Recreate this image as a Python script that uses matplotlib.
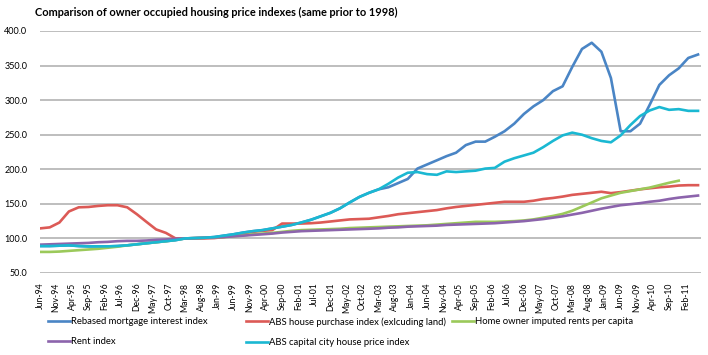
import matplotlib
matplotlib.use("Agg")
import matplotlib.pyplot as plt
import numpy as np
import pandas as pd

# quarterly observations, Jun-94 .. Jun-11
quarters = pd.date_range("1994-06-01", periods=69, freq="3MS")

mortgage = [89, 89, 89.5, 90, 89, 88.5, 88.5, 88.5, 89, 90,
            91.5, 93, 94.5, 96, 97.5, 100, 100.5, 101, 102, 104,
            106, 108.5, 110.5, 112, 114.5, 117, 119.5, 123, 127, 132,
            137, 143.5, 152, 160, 166, 171, 174, 180, 186, 201,
            207, 213, 219, 224, 235, 240, 240, 247, 255, 266,
            280, 291, 300, 313, 320, 348, 374, 383, 370, 332,
            255, 255, 266, 293, 322, 336, 346, 361, 366]

house_purchase = [114.5, 116, 123, 139, 145, 145.5, 147, 148, 148, 145,
                  135, 124, 113, 108, 100, 100, 100, 100, 100.5, 102,
                  104.5, 107, 109.5, 111, 112, 121.5, 121.5, 121.5, 122, 123,
                  124.5, 126, 127.5, 128, 128.5, 130.5, 132.5, 135, 136.5, 138,
                  139.5, 141, 143.5, 145.5, 147, 148.5, 150, 151.5, 153, 153,
                  153, 154.5, 157, 158.5, 160.5, 163, 164.5, 166, 167.5, 165.5,
                  167, 169, 171, 172.5, 174, 175, 176.5, 177, 177]

imputed_rents = [80.5, 80.5, 81, 82, 83, 84, 85, 86.5, 88, 90,
                 91.5, 93, 94.5, 96, 98, 100, 100.5, 101, 101.5, 102,
                 103, 104.5, 106, 107, 108, 109.5, 111, 112, 112.5, 113,
                 113.5, 114, 115, 115.5, 116, 116.5, 117, 117.5, 118, 118.5,
                 119, 120, 121, 122, 123, 124, 124, 124, 124.5, 125,
                 126, 127.5, 130, 132.5, 135.5, 140, 146, 152, 158, 162,
                 166, 168.5, 171, 173.5, 177, 180.5, 183.5, None, None]

rent = [91, 91.5, 92, 92.5, 93, 93.5, 94.5, 95, 96, 96.5,
        96.5, 97, 98, 98.5, 99.5, 100, 100.5, 101, 101.5, 102,
        103, 104, 105, 106, 107, 108.5, 109.5, 110.5, 111, 111.5,
        112, 112.5, 113, 113.5, 114, 114.5, 115.5, 116, 117, 117.5,
        118, 118.5, 119.5, 120, 120.5, 121, 121.5, 122, 123, 124,
        125, 126.5, 128, 130, 132, 134.5, 137, 140, 143, 145.5,
        148, 149.5, 151, 153, 154.5, 157, 159, 160.5, 162]

capital_city = [89, 89, 89.5, 90, 89, 88.5, 88.5, 88.5, 89, 90,
                91.5, 93, 94.5, 96, 97.5, 100, 100.5, 101, 102, 104,
                106, 108.5, 110.5, 112, 114.5, 117, 119.5, 123, 127, 132,
                137, 143.5, 152, 160, 166, 171, 179, 188, 195, 196,
                193, 192, 197, 196, 197, 198, 201, 202, 211, 216,
                220, 224, 232, 241, 249, 253, 250, 245, 241, 239,
                249, 264, 277, 285, 290, 286, 287, 284.5, 284.5]

tick_labels = ["Jun-94", "Nov-94", "Apr-95", "Sep-95", "Feb-96", "Jul-96", "Dec-96",
               "May-97", "Oct-97", "Mar-98", "Aug-98", "Jan-99", "Jun-99", "Nov-99",
               "Apr-00", "Sep-00", "Feb-01", "Jul-01", "Dec-01", "May-02", "Oct-02",
               "Mar-03", "Aug-03", "Jan-04", "Jun-04", "Nov-04", "Apr-05", "Sep-05",
               "Feb-06", "Jul-06", "Dec-06", "May-07", "Oct-07", "Mar-08", "Aug-08",
               "Jan-09", "Jun-09", "Nov-09", "Apr-10", "Sep-10", "Feb-11"]

names = ["Rebased mortgage interest index",
         "ABS house purchase index (exlcuding land)",
         "Home owner imputed rents per capita",
         "Rent index",
         "ABS capital city house price index"]
colors = ["#4a85c5", "#dc5a56", "#9bc95a", "#8c64ac", "#1ab8d2"]

plt.rcParams["font.family"] = ["Lato", "DejaVu Sans"]

fig = plt.figure(figsize=(7.08, 3.55), dpi=100)
ax = fig.add_axes([40 / 708, 1 - 273 / 355, 661 / 708, 242 / 355])

series = [mortgage, house_purchase, imputed_rents, rent, capital_city]
handles = []
for vals, name, col in zip(series, names, colors):
    y = np.array([np.nan if v is None else v for v in vals], dtype=float)
    h, = ax.plot(quarters, y, color=col, lw=1.9, label=name, solid_joinstyle="round")
    handles.append(h)

ax.set_ylim(50, 400)
ax.set_yticks(np.arange(50, 401, 50))
ax.yaxis.set_major_formatter(matplotlib.ticker.FormatStrFormatter("%.1f"))
ax.set_xlim(quarters[0], quarters[-1] + pd.Timedelta(days=28))

tick_dates = pd.date_range("1994-06-01", periods=len(tick_labels), freq="5MS")
ax.set_xticks(tick_dates)
ax.set_xticklabels(tick_labels, rotation=90)
ax.tick_params(axis="both", length=0)
ax.tick_params(axis="y", pad=9, labelsize=6.5)
ax.tick_params(axis="x", pad=7, labelsize=6.2)

ax.grid(axis="y", color="#b3b3b3", lw=1.2)
ax.set_axisbelow(True)
for s in ax.spines.values():
    s.set_visible(False)

fig.text(35 / 708, 1 - 12 / 355, "Comparison of owner occupied housing price indexes (same prior to 1998)",
         fontsize=7.9, fontweight="bold", va="center", ha="left")

# Excel-style legend: three equal columns, filled row by row
leg_cols = [([handles[0], handles[3]], 48), ([handles[1], handles[4]], 246), ([handles[2]], 452)]
for hs, xpix in leg_cols:
    fig.legend(hs, [h.get_label() for h in hs], loc="upper left",
               bbox_to_anchor=(xpix / 708, 1 - 317 / 355), frameon=False,
               fontsize=6.8, handlelength=2.3, handletextpad=0.1,
               labelspacing=1.2, borderpad=0, borderaxespad=0)

fig.savefig("out.png", dpi=100)
